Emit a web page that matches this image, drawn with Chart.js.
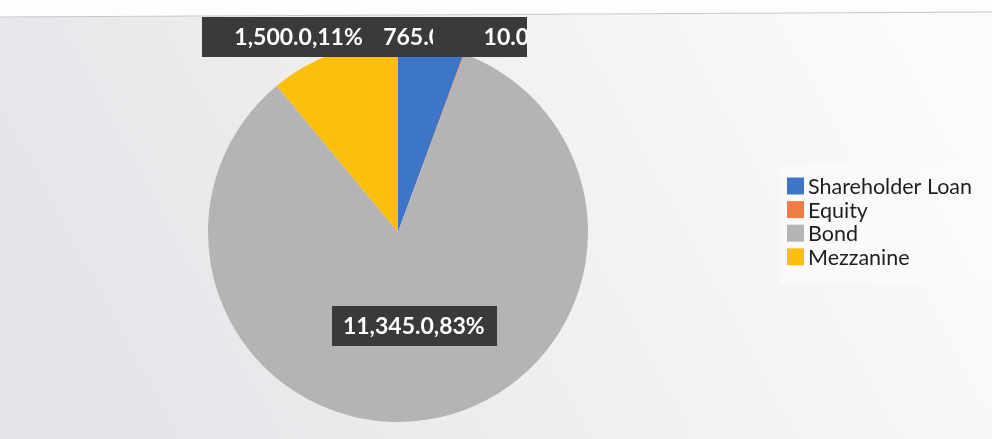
<!DOCTYPE html>
<html>
<head>
<meta charset="utf-8">
<script src="https://cdn.jsdelivr.net/npm/chart.js"></script>
<style>
  html, body { margin: 0; padding: 0; background: #eeeef0; }
  #wrap { width: 992px; height: 439px; }
</style>
</head>
<body>
<div id="wrap"><canvas id="pieChart" width="992" height="439"></canvas></div>
<script>
const labels = ['Shareholder Loan', 'Equity', 'Bond', 'Mezzanine'];
const amounts = [765.0, 10.0, 11345.0, 1500.0];
const colors = ['#3d76c6', '#ef7b45', '#b4b3b6', '#fbbf0c'];

const total = amounts.reduce((a, b) => a + b, 0);
const fmt = v => v.toLocaleString('en-US', { minimumFractionDigits: 1, maximumFractionDigits: 1 });

// background of the photographed sheet
const bgPlugin = {
  id: 'bg',
  beforeDraw(chart) {
    const ctx = chart.ctx;
    const g = ctx.createLinearGradient(900, 0, 80, 439);
    g.addColorStop(0, '#fbfbfb');
    g.addColorStop(1, '#e4e4e8');
    ctx.save();
    ctx.fillStyle = g;
    ctx.fillRect(0, 0, chart.width, chart.height);
    // strip above the chart border
    ctx.fillStyle = '#fdfdfd';
    ctx.beginPath();
    ctx.moveTo(0, 0); ctx.lineTo(992, 0); ctx.lineTo(992, 12); ctx.lineTo(0, 17);
    ctx.closePath(); ctx.fill();
    ctx.strokeStyle = '#c8c8cc';
    ctx.lineWidth = 1;
    ctx.beginPath(); ctx.moveTo(0, 17); ctx.lineTo(992, 12); ctx.stroke();
    ctx.restore();
  }
};

// data labels "value,percent" in dark boxes
const labelPlugin = {
  id: 'sliceLabels',
  afterDatasetsDraw(chart) {
    const ctx = chart.ctx;
    const meta = chart.getDatasetMeta(0);
    const shift = [0, 61, 0, -35];
    const padLeft = [12, 50, 10, 32];
    ctx.save();
    ctx.beginPath(); ctx.rect(0, 0, 527, chart.height); ctx.clip();
    ctx.font = 'bold 23px Lato';
    ctx.textBaseline = 'middle';
    ctx.textAlign = 'center';
    [3, 0, 1, 2].forEach(i => {
      const arc = meta.data[i];
      const p = arc.getProps(['x', 'y', 'startAngle', 'endAngle', 'outerRadius'], true);
      const mid = (p.startAngle + p.endAngle) / 2;
      const text = fmt(amounts[i]) + ',' + Math.round(amounts[i] / total * 100) + '%';
      let x, y;
      if (amounts[i] / total > 0.5) {
        x = p.x + Math.cos(mid) * p.outerRadius * 0.5;
        y = p.y + Math.sin(mid) * p.outerRadius * 0.5;
      } else {
        x = p.x + Math.cos(mid) * p.outerRadius + shift[i];
        y = p.y - p.outerRadius - 5;
      }
      const tw = ctx.measureText(text).width;
      const h = 40;
      const left = Math.floor(x - tw / 2 - padLeft[i]);
      const right = Math.ceil(x + tw / 2 + 12);
      ctx.fillStyle = '#3a3a3c';
      ctx.fillRect(left, Math.round(y - h / 2), right - left, h);
      ctx.fillStyle = '#ffffff';
      ctx.fillText(text, x, y + 1);
    });
    ctx.restore();
  }
};

// legend on the right
const legendPlugin = {
  id: 'sideLegend',
  afterDraw(chart) {
    const ctx = chart.ctx;
    ctx.save();
    ctx.fillStyle = 'rgba(250,250,251,0.85)';
    ctx.fillRect(780, 165, 212, 118);
    ctx.font = '21.5px Lato';
    ctx.textBaseline = 'middle';
    ctx.textAlign = 'left';
    labels.forEach((lab, i) => {
      const y = 186 + i * 23.6;
      ctx.fillStyle = colors[i];
      ctx.fillRect(787, y - 8.5, 17, 17);
      ctx.fillStyle = '#1e1e22';
      ctx.fillText(lab, 808, y + 1);
    });
    ctx.restore();
  }
};

new Chart(document.getElementById('pieChart'), {
  type: 'pie',
  data: {
    labels: labels,
    datasets: [{
      data: amounts,
      backgroundColor: colors,
      borderWidth: 0
    }]
  },
  options: {
    responsive: false,
    animation: false,
    layout: { padding: { top: 42, bottom: 17, left: 208, right: 404 } },
    plugins: {
      legend: { display: false },
      tooltip: { enabled: false }
    }
  },
  plugins: [bgPlugin, labelPlugin, legendPlugin]
});
</script>
</body>
</html>
